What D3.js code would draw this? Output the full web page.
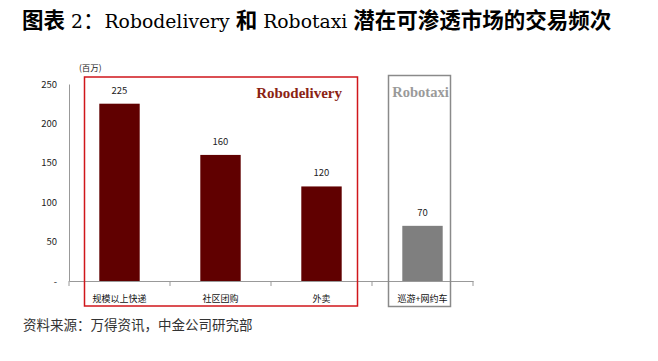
<!DOCTYPE html>
<html><head><meta charset="utf-8">
<script src="https://cdn.jsdelivr.net/npm/d3@7"></script>
<style>body{margin:0;background:#fff;} svg{display:block;}</style>
</head><body>
<svg id="c" width="658" height="361"></svg>
<script>
const categories = ["规模以上快递", "社区团购", "外卖", "巡游+网约车"];
const values = [225, 160, 120, 70];
const groups = ["Robodelivery", "Robodelivery", "Robodelivery", "Robotaxi"];
const yTicks = [0, 50, 100, 150, 200, 250];
const yTickLabels = ["-", "50", "100", "150", "200", "250"];
const unitLabel = "(百万)";
const titleParts = [["图表", "cjk"], [" 2", "serif"], ["：", "cjkl"], ["Robodelivery ", "serif"], ["和", "cjk"], [" Robotaxi ", "serif"], ["潜在可渗透市场的交易频次", "cjk"]];
const sourceText = "资料来源：万得资讯，中金公司研究部";

const svg = d3.select("#c");
const m = {left: 69, right: 473, top: 84, bottom: 281};
const x = d3.scaleBand().domain(categories).range([m.left, m.right]).paddingInner(0.6).paddingOuter(0.3);
const xb = d3.scaleBand().domain(categories).range([m.left, m.right]);
const y = d3.scaleLinear().domain([0, 250]).range([m.bottom, m.top]);

// title
const t = svg.append("text").attr("x", 22).attr("y", 28);
titleParts.forEach(([s, f]) => {
  t.append("tspan").text(s)
    .attr("font-family", f.startsWith("cjk") ? "'Noto Sans CJK SC'" : "'DejaVu Serif', serif")
    .attr("font-weight", f === "cjk" ? 700 : 400)
    .attr("font-size", f.startsWith("cjk") ? 21.5 : 18.8)
    .attr("fill", "#000");
});

// y axis
const ya = svg.append("g").attr("transform", `translate(${m.left},0)`)
  .call(d3.axisLeft(y).tickValues(yTicks).tickFormat((d, i) => yTickLabels[i]).tickSize(0).tickPadding(12));
ya.select(".domain").attr("stroke", "#999");
ya.selectAll("text").attr("font-family", "'Noto Sans CJK SC', sans-serif").attr("font-size", 9.5).attr("fill", "#222");

// x axis
const xa = svg.append("g").attr("transform", `translate(0,${m.bottom})`)
  .call(d3.axisBottom(xb).tickSize(0).tickFormat(""));
xa.select(".domain").attr("stroke", "#999");
xa.selectAll(".tick").remove();
const bounds = categories.map(c => xb(c)).concat([xb(categories[categories.length - 1]) + xb.bandwidth()]);
xa.selectAll("line.b").data(bounds).enter().append("line")
  .attr("x1", d => d).attr("x2", d => d).attr("y1", 0).attr("y2", 5).attr("stroke", "#999");

// bars
svg.selectAll("rect.bar").data(values).enter().append("rect")
  .attr("x", (d, i) => x(categories[i])).attr("width", x.bandwidth())
  .attr("y", d => y(d)).attr("height", d => y(0) - y(d))
  .attr("fill", (d, i) => groups[i] === "Robotaxi" ? "#7f7f7f" : "#600000");

// value labels
svg.selectAll("text.v").data(values).enter().append("text")
  .attr("x", (d, i) => x(categories[i]) + x.bandwidth() / 2).attr("y", d => y(d) - 10)
  .attr("text-anchor", "middle").attr("font-family", "'Noto Sans CJK SC', sans-serif").attr("font-size", 9.5).attr("fill", "#222")
  .text(d => d);

// category labels
svg.selectAll("text.c").data(categories).enter().append("text")
  .attr("x", d => xb(d) + xb.bandwidth() / 2).attr("y", 301.5)
  .attr("text-anchor", "middle").attr("font-family", "'Noto Sans CJK SC', sans-serif").attr("font-size", 9).attr("fill", "#111")
  .text(d => d);

// group boxes
svg.append("rect").attr("x", 84.5).attr("y", 77).attr("width", 273).attr("height", 229)
  .attr("fill", "none").attr("stroke", "#d0161b").attr("stroke-width", 1.5);
svg.append("rect").attr("x", 388.5).attr("y", 75.5).attr("width", 62).attr("height", 231)
  .attr("fill", "none").attr("stroke", "#8a8a8a").attr("stroke-width", 1.5);
svg.append("text").attr("x", 342).attr("y", 98).attr("text-anchor", "end")
  .attr("font-family", "'Liberation Serif', serif").attr("font-weight", 700).attr("font-size", 15).attr("fill", "#8b2313")
  .text("Robodelivery");
svg.append("text").attr("x", 420.5).attr("y", 97).attr("text-anchor", "middle")
  .attr("font-family", "'Liberation Serif', serif").attr("font-weight", 700).attr("font-size", 14.5).attr("fill", "#9a9a9a")
  .text("Robotaxi");

// unit label
svg.append("text").attr("x", 79).attr("y", 71).attr("font-family", "'Noto Sans CJK SC', sans-serif")
  .attr("font-size", 8.5).attr("fill", "#222").text(unitLabel);

// source
svg.append("text").attr("x", 23).attr("y", 330).attr("font-family", "'Noto Sans CJK SC', sans-serif")
  .attr("font-size", 13.5).attr("fill", "#333").text(sourceText);
</script>
</body></html>
